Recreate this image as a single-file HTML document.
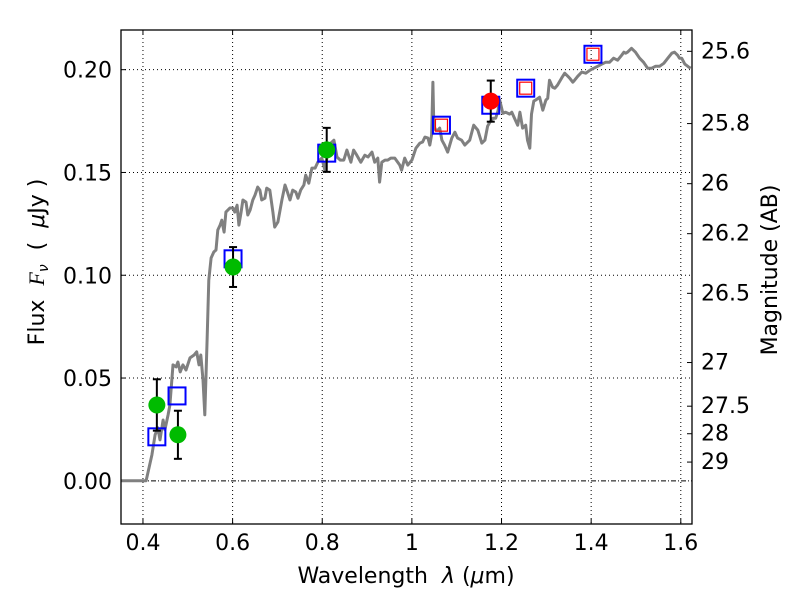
<!DOCTYPE html>
<html><head><meta charset="utf-8"><style>
html,body{margin:0;padding:0;background:#fff;}
svg{display:block;font-family:"DejaVu Sans","Liberation Sans",sans-serif;}
</style></head><body>
<svg id="chart" width="800" height="600"></svg>
<script>
const specWave=[0.35,0.407,0.420,0.427,0.433,0.438,0.445,0.449,0.456,0.460,0.467,0.474,0.478,0.483,0.489,0.496,0.505,0.514,0.520,0.525,0.529,0.534,0.538,0.543,0.547,0.552,0.558,0.563,0.567,0.572,0.576,0.581,0.585,0.594,0.601,0.605,0.610,0.614,0.619,0.623,0.630,0.634,0.639,0.645,0.650,0.656,0.661,0.665,0.672,0.676,0.683,0.690,0.694,0.701,0.710,0.717,0.721,0.728,0.734,0.741,0.746,0.752,0.759,0.763,0.770,0.777,0.784,0.790,0.799,0.806,0.813,0.819,0.826,0.833,0.840,0.848,0.855,0.864,0.870,0.877,0.886,0.895,0.902,0.911,0.917,0.924,0.928,0.933,0.940,0.946,0.953,0.962,0.973,0.977,0.984,0.991,1.000,1.009,1.018,1.024,1.029,1.036,1.040,1.044,1.047,1.049,1.053,1.058,1.062,1.067,1.073,1.080,1.089,1.096,1.102,1.111,1.118,1.129,1.138,1.147,1.156,1.163,1.169,1.174,1.181,1.187,1.192,1.196,1.203,1.209,1.218,1.223,1.229,1.236,1.241,1.247,1.254,1.258,1.263,1.267,1.272,1.276,1.285,1.292,1.299,1.303,1.307,1.314,1.319,1.325,1.334,1.341,1.348,1.352,1.359,1.363,1.370,1.379,1.388,1.397,1.406,1.415,1.424,1.432,1.441,1.450,1.459,1.468,1.473,1.477,1.481,1.490,1.499,1.508,1.517,1.526,1.535,1.544,1.553,1.562,1.571,1.580,1.586,1.593,1.597,1.602,1.609,1.618,1.622];
const specFlux=[0,0,0.0126,0.0224,0.0258,0.0199,0.0296,0.0248,0.0321,0.0369,0.0564,0.0554,0.0578,0.0530,0.0564,0.0539,0.0598,0.0612,0.0627,0.0564,0.0612,0.0491,0.0321,0.0685,0.0977,0.1084,0.1113,0.1123,0.1220,0.1244,0.1268,0.1210,0.1307,0.1327,0.1327,0.1307,0.1341,0.1244,0.1307,0.1366,0.1356,0.1293,0.1317,0.1366,0.1390,0.1429,0.1414,0.1366,0.1375,0.1424,0.1414,0.1307,0.1234,0.1259,0.1366,0.1439,0.1414,0.1366,0.1414,0.1405,0.1375,0.1414,0.1439,0.1487,0.1448,0.1521,0.1521,0.1550,0.1570,0.1511,0.1609,0.1643,0.1657,0.1575,0.1560,0.1560,0.1609,0.1550,0.1609,0.1584,0.1550,0.1584,0.1575,0.1599,0.1550,0.1570,0.1453,0.1550,0.1560,0.1560,0.1570,0.1570,0.1536,0.1511,0.1570,0.1536,0.1560,0.1618,0.1643,0.1648,0.1672,0.1667,0.1633,0.1682,0.1939,0.1730,0.1706,0.1706,0.1716,0.1657,0.1633,0.1599,0.1667,0.1696,0.1667,0.1657,0.1633,0.1657,0.1730,0.1706,0.1643,0.1657,0.1725,0.1745,0.1764,0.1764,0.1798,0.1852,0.1788,0.1793,0.1784,0.1793,0.1764,0.1730,0.1793,0.1716,0.1730,0.1657,0.1618,0.1784,0.1847,0.1852,0.1866,0.1803,0.1852,0.1861,0.1949,0.1915,0.1910,0.1925,0.1959,0.1983,0.1968,0.1959,0.1939,0.1949,0.1968,0.1988,0.1983,0.1997,0.2007,0.2017,0.2027,0.2036,0.2036,0.2056,0.2046,0.2070,0.2085,0.2080,0.2085,0.2104,0.2085,0.2056,0.2036,0.2007,0.2007,0.2017,0.2017,0.2031,0.2056,0.2080,0.2085,0.2070,0.2056,0.2056,0.2027,0.2012,0.2007];
const obsWave=[0.431,0.478,0.601,0.81];
const obsFlux=[0.0369,0.0224,0.104,0.161];
const obsErr=[0.0125,0.0117,0.0097,0.0107];
const redWave=[1.176];
const redFlux=[0.1847];
const redErr=[0.0100];
const modelWave=[0.431,0.476,0.601,0.81,1.066,1.176,1.254,1.404];
const modelFlux=[0.0214,0.0413,0.108,0.1594,0.173,0.1827,0.191,0.2075];
const predWave=[1.066,1.254,1.404];
const predFlux=[0.173,0.191,0.2075];
const xTicks=[0.4,0.6,0.8,1.0,1.2,1.4,1.6];
const xTickLabels=["0.4","0.6","0.8","1","1.2","1.4","1.6"];
const yTicks=[0,0.05,0.10,0.15,0.20];
const yTickLabels=["0.00","0.05","0.10","0.15","0.20"];
const magTicks=[25.6,25.8,26,26.2,26.5,27,27.5,28,29];
const magTickLabels=["25.6","25.8","26","26.2","26.5","27","27.5","28","29"];

const L=121,R=692,T=30,B=524,X0=0.351,X1=1.625,Y0=-0.021,Y1=0.2193;
const sx=v=>L+(v-X0)/(X1-X0)*(R-L);
const sy=v=>B-(v-Y0)/(Y1-Y0)*(B-T);
const svg=document.getElementById('chart');
const NS='http://www.w3.org/2000/svg';
function mk(tag,attrs,parent){const e=document.createElementNS(NS,tag);for(const k in attrs)e.setAttribute(k,attrs[k]);(parent||svg).appendChild(e);return e;}
const clipDef=mk('defs',{});const cp=mk('clipPath',{id:'pc'},clipDef);mk('rect',{x:L,y:T,width:R-L,height:B-T},cp);
const grid=mk('g',{});


const FS=22;
xTicks.forEach((t,i)=>{const x=sx(t);
 mk('line',{x1:x,x2:x,y1:T,y2:B,stroke:'#000','stroke-width':1,'stroke-dasharray':'1,3'},grid);
 mk('line',{x1:x,x2:x,y1:B,y2:B-5,stroke:'#000'});mk('line',{x1:x,x2:x,y1:T,y2:T+5,stroke:'#000'});
 const tx=mk('text',{x:x,y:B+26,'font-size':FS,'text-anchor':'middle'});tx.textContent=xTickLabels[i];
 
 
});
yTicks.forEach((t,i)=>{const y=sy(t);
 mk('line',{x1:L,x2:R,y1:y,y2:y,stroke:'#000','stroke-width':1,'stroke-dasharray':t===0?'5,2,1,2':'1,3'},grid);
 mk('line',{x1:L,x2:L+5,y1:y,y2:y,stroke:'#000'});
 const tx=mk('text',{x:L-9,y:y+8,'font-size':FS,'text-anchor':'end'});tx.textContent=yTickLabels[i];
 
 
});
magTicks.forEach((m,i)=>{const f=Math.pow(10,(23.9-m)/2.5);const y=sy(f);
 mk('line',{x1:R,x2:R-5,y1:y,y2:y,stroke:'#000'});
 const tx=mk('text',{x:R+9,y:y+7,'font-size':FS});tx.textContent=magTickLabels[i];
 
 
});
const pg=mk('g',{'clip-path':'url(#pc)'});
const d=specWave.map((w,i)=>(i?'L':'M')+sx(w).toFixed(1)+','+sy(specFlux[i]).toFixed(1)).join('');
const sp=mk('path',{d:d,fill:'none',stroke:'#808080','stroke-width':3,'stroke-linejoin':'round'},pg);


function errbar(w,f,e,color){const x=sx(w);
 mk('line',{x1:x,x2:x,y1:sy(f-e),y2:sy(f+e),stroke:'#000','stroke-width':2},pg);
 mk('line',{x1:x-4,x2:x+4,y1:sy(f-e),y2:sy(f-e),stroke:'#000','stroke-width':2},pg);
 mk('line',{x1:x-4,x2:x+4,y1:sy(f+e),y2:sy(f+e),stroke:'#000','stroke-width':2},pg);
 const c=mk('circle',{cx:x,cy:sy(f),r:8.5,fill:color},pg);
 
 
}
modelWave.forEach((w,i)=>{const s=mk('rect',{x:sx(w)-8.5,y:sy(modelFlux[i])-8.5,width:17,height:17,fill:'none',stroke:'#0000ff','stroke-width':2},pg);
 
 });
predWave.forEach((w,i)=>{const s=mk('rect',{x:sx(w)-6,y:sy(predFlux[i])-6,width:12,height:12,fill:'none',stroke:'#ff0000','stroke-width':1.2},pg);
 
 });
obsWave.forEach((w,i)=>errbar(w,obsFlux[i],obsErr[i],'#00bb00'));
redWave.forEach((w,i)=>errbar(w,redFlux[i],redErr[i],'#ff0000'));
const fr=mk('rect',{x:L,y:T,width:R-L,height:B-T,fill:'none',stroke:'#000','stroke-width':1.3});


const xl=mk('text',{x:406,y:583,'font-size':FS,'text-anchor':'middle',style:'white-space:pre'});
xl.innerHTML='Wavelength  <tspan font-style="italic">λ</tspan> (<tspan font-style="italic">μ</tspan>m)';


const yl=mk('text',{x:0,y:0,'font-size':FS,'text-anchor':'middle',transform:'translate(44,262) rotate(-90)'});
yl.innerHTML='Flux\u00a0\u00a0<tspan font-style="italic" font-family="Liberation Serif">F</tspan><tspan font-style="italic" font-size="14" dy="4">ν</tspan><tspan dy="-4">\u00a0\u00a0(\u00a0\u00a0</tspan><tspan font-style="italic">μ</tspan>Jy )';


const rl=mk('text',{x:0,y:0,'font-size':FS,'text-anchor':'middle',transform:'translate(777,270) rotate(-90)'});
rl.textContent='Magnitude (AB)';


</script>
</body></html>
